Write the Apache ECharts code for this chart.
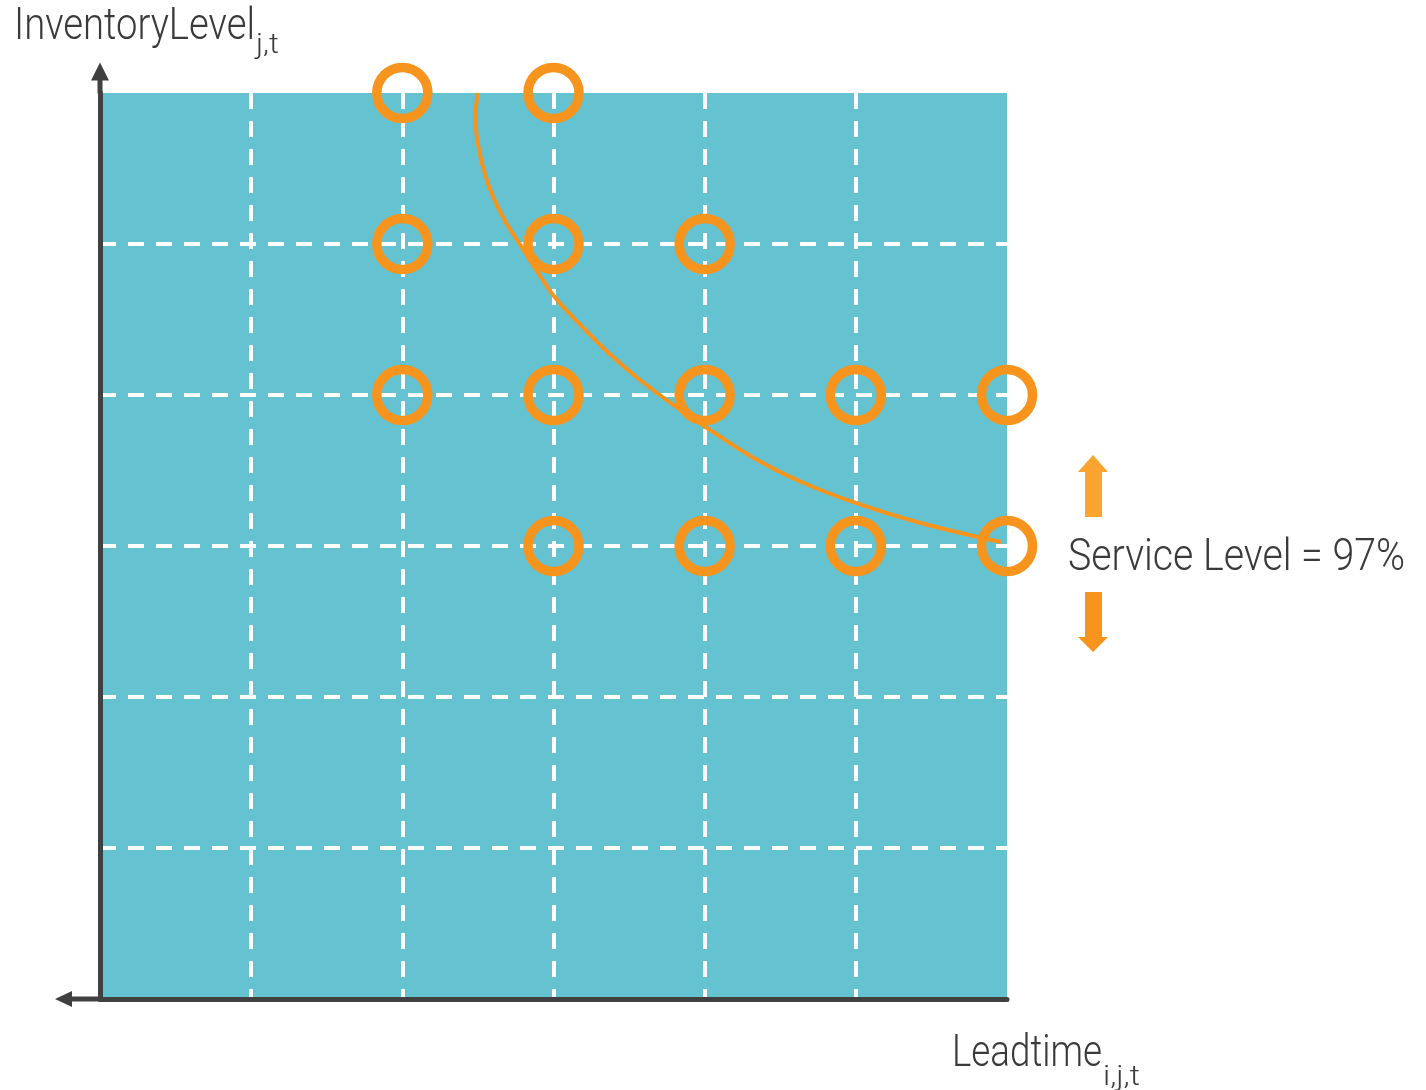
<!DOCTYPE html>
<html>
<head>
<meta charset="utf-8">
<script src="https://cdn.jsdelivr.net/npm/echarts@6/dist/echarts.min.js"></script>
<style>
html,body{margin:0;padding:0;background:#fff;}
#chart{width:1426px;height:1090px;}
</style>
</head>
<body>
<div id="chart"></div>
<script>
// ---- data ----
const axisMin = 0;
const axisMax = 6;
const axisStep = 1;
// feasible (leadtime, inventory level) combinations
const pointsX = [2, 3, 2, 3, 4, 2, 3, 4, 5, 6, 3, 4, 5, 6];
const pointsY = [6, 6, 5, 5, 5, 4, 4, 4, 4, 4, 3, 3, 3, 3];
// service level iso-curve
const curveX = [2.500, 2.483, 2.510, 2.570, 2.669, 2.781, 2.894, 3.013, 3.179, 3.358, 3.556, 3.821, 4.007, 4.325, 4.656, 5.000, 5.430, 5.960];
const curveY = [6.000, 5.834, 5.609, 5.391, 5.172, 4.993, 4.815, 4.642, 4.464, 4.285, 4.113, 3.914, 3.788, 3.583, 3.417, 3.285, 3.152, 3.026];
const yTitle = 'InventoryLevel';
const ySub = 'j,t';
const xTitle = 'Leadtime';
const xSub = 'i,j,t';
const serviceLabel = 'Service Level = 97%';

const FONT = 'Roboto, "Liberation Sans", sans-serif';
const TXT = '#3a3a3a';
const ORANGE = '#F7941D';

const mctx = document.createElement('canvas').getContext('2d');
function measure(font, s) { mctx.font = font; return mctx.measureText(s).width; }

// condensed-looking text: main word + subscript
function label(x, y, main, mainW, sub, subW, subDy) {
  const f1 = '300 45px ' + FONT, f2 = '300 28px ' + FONT;
  const s1 = mainW / measure(f1, main);
  const els = [{type: 'text', x: x, y: y, scaleX: s1, scaleY: 1,
    style: {text: main, font: f1, fill: TXT, verticalAlign: 'top'}}];
  if (sub) {
    const s2 = subW / measure(f2, sub);
    els.push({type: 'text', x: x + mainW + 1, y: y + subDy, scaleX: s2, scaleY: 1,
      style: {text: sub, font: f2, fill: TXT, verticalAlign: 'top'}});
  }
  return els;
}

const chart = echarts.init(document.getElementById('chart'), null, {renderer: 'canvas'});

const axisCommon = {
  type: 'value', min: axisMin, max: axisMax, interval: axisStep,
  axisLabel: {show: false}, axisTick: {show: false},
  splitLine: {show: true, showMinLine: false, showMaxLine: false,
    lineStyle: {color: '#ffffff', width: 4, type: [16, 12]}}
};

chart.setOption({
  animation: false,
  grid: {left: 100, top: 93, right: 419, bottom: 91, show: true,
    backgroundColor: '#65C3D1', borderWidth: 0},
  xAxis: Object.assign({}, axisCommon, {
    axisLine: {show: true, onZero: false,
      symbol: ['path://M8 0L16 17L10.5 17L10.5 45L5.5 45L5.5 17L0 17Z', 'none'],
      symbolSize: [16, 45], symbolOffset: [-22.5, 0],
      lineStyle: {color: '#404040', width: 5}}
  }),
  yAxis: Object.assign({}, axisCommon, {
    axisLine: {show: true, onZero: false,
      symbol: ['none', 'path://M9 0L18 18L11.5 18L11.5 31L6.5 31L6.5 18L0 18Z'],
      symbolSize: [18, 31], symbolOffset: [0, 15],
      lineStyle: {color: '#404040', width: 5}}
  }),
  series: [
    {
      type: 'line', smooth: 0.4, symbol: 'none', clip: false, z: 3,
      data: curveX.map((x, i) => [x, curveY[i]]),
      lineStyle: {color: ORANGE, width: 4}
    },
    {
      type: 'scatter', clip: false, z: 4, symbol: 'circle', symbolSize: 51,
      data: pointsX.map((x, i) => [x, pointsY[i]]),
      itemStyle: {color: 'rgba(0,0,0,0)', borderColor: ORANGE, borderWidth: 9.5, opacity: 1},
      emphasis: {disabled: true}
    }
  ],
  graphic: [].concat(
    label(14, 5, yTitle, 241, ySub, 23, 27),
    label(952, 1032, xTitle, 150, xSub, 37, 32),
    label(1068, 536, serviceLabel, 337, null, 0, 0),
    [
      {type: 'polygon', shape: {points: [[1093,455],[1108,472],[1102,472],[1102,517],[1085,517],[1085,472],[1078,472]]},
        style: {fill: '#FBA42F'}},
      {type: 'polygon', shape: {points: [[1085,592],[1102,592],[1102,637],[1108,637],[1093,652],[1078,637],[1085,637]]},
        style: {fill: ORANGE}}
    ]
  )
});
</script>
</body>
</html>
